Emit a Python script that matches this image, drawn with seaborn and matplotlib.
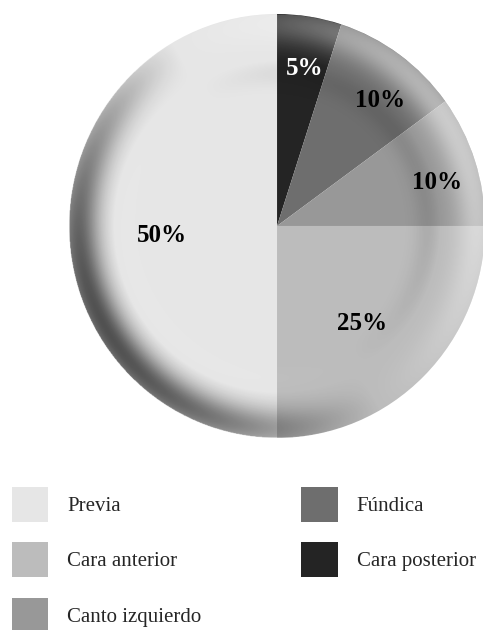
import numpy as np
import matplotlib
matplotlib.use("Agg")
import matplotlib.pyplot as plt
import seaborn as sns
from matplotlib.patches import Patch, Circle

# ---- data ----
categories = ["Cara posterior", "Fúndica", "Canto izquierdo", "Cara anterior", "Previa"]
values = [5, 10, 10, 25, 50]
pct_labels = ["5%", "10%", "10%", "25%", "50%"]
legend_order = ["Previa", "Cara anterior", "Canto izquierdo", "Fúndica", "Cara posterior"]

# ---- style ----
sns.set_theme(style="white")
plt.rcParams["font.family"] = ["Liberation Serif", "DejaVu Serif"]

palette = {
    "Cara posterior": "#242424",
    "Fúndica": "#6e6e6e",
    "Canto izquierdo": "#989898",
    "Cara anterior": "#bcbcbc",
    "Previa": "#e6e6e6",
}
label_colors = ["white", "black", "black", "black", "black"]
label_r = [0.757, 0.773, 0.795, 0.614, 0.555]
label_dtheta = [-1.3, -3.8, -3.2, -3.2, 4.4]

fig = plt.figure(figsize=(4.83, 6.30), dpi=100)
fig.patch.set_facecolor("white")
ax = fig.add_axes([0.1429, 0.3048, 0.8613, 0.673])

wedges, _ = ax.pie(values, colors=[palette[c] for c in categories], startangle=90,
                   counterclock=False, radius=1,
                   wedgeprops=dict(linewidth=0, antialiased=True))

# bevel shading overlay
n = 700
xs = np.linspace(-1, 1, n)
X, Y = np.meshgrid(xs, xs)
R = np.hypot(X, Y)
T = np.arctan2(Y, X)
s = 1 - R
light = np.cos(T - np.deg2rad(30))
prof = np.exp(-((s - 0.045) / 0.1) ** 2) - 0.15 * np.exp(-((s - 0.28) / 0.06) ** 2)
S = light * prof
rgba = np.zeros((n, n, 4))
pos = S > 0
rgba[..., :3] = np.where(pos[..., None], 1.0, 0.0)
rgba[..., 3] = np.where(pos, 0.5 * S, -0.65 * S)
rgba[R > 1.0, 3] = 0
im = ax.imshow(rgba, extent=(-1, 1, -1, 1), origin="lower", interpolation="bilinear",
               zorder=2, aspect="auto")
im.set_clip_path(Circle((0, 0), 1, transform=ax.transData))

# percentage labels
for w, txt, col, rr, dt in zip(wedges, pct_labels, label_colors, label_r, label_dtheta):
    ang = np.deg2rad((w.theta1 + w.theta2) / 2 + dt)
    ax.text(rr * np.cos(ang), rr * np.sin(ang), txt, ha="center", va="center",
            fontsize=18, fontweight="bold", color=col, zorder=5)

ax.set_xlim(-1, 1)
ax.set_ylim(-1, 1)
ax.set_aspect("auto")
ax.axis("off")

handles = [Patch(facecolor=palette[c], edgecolor="none") for c in legend_order]
fig.legend(handles, legend_order, loc="upper left", bbox_to_anchor=(12 / 483, 1 - 487 / 630),
           ncol=2, frameon=False, fontsize=15, handlelength=1.75, handleheight=2.2,
           handletextpad=0.9, columnspacing=4.8, labelspacing=0.98,
           borderaxespad=0, borderpad=0)

fig.savefig("out.png", dpi=100, facecolor="white")
